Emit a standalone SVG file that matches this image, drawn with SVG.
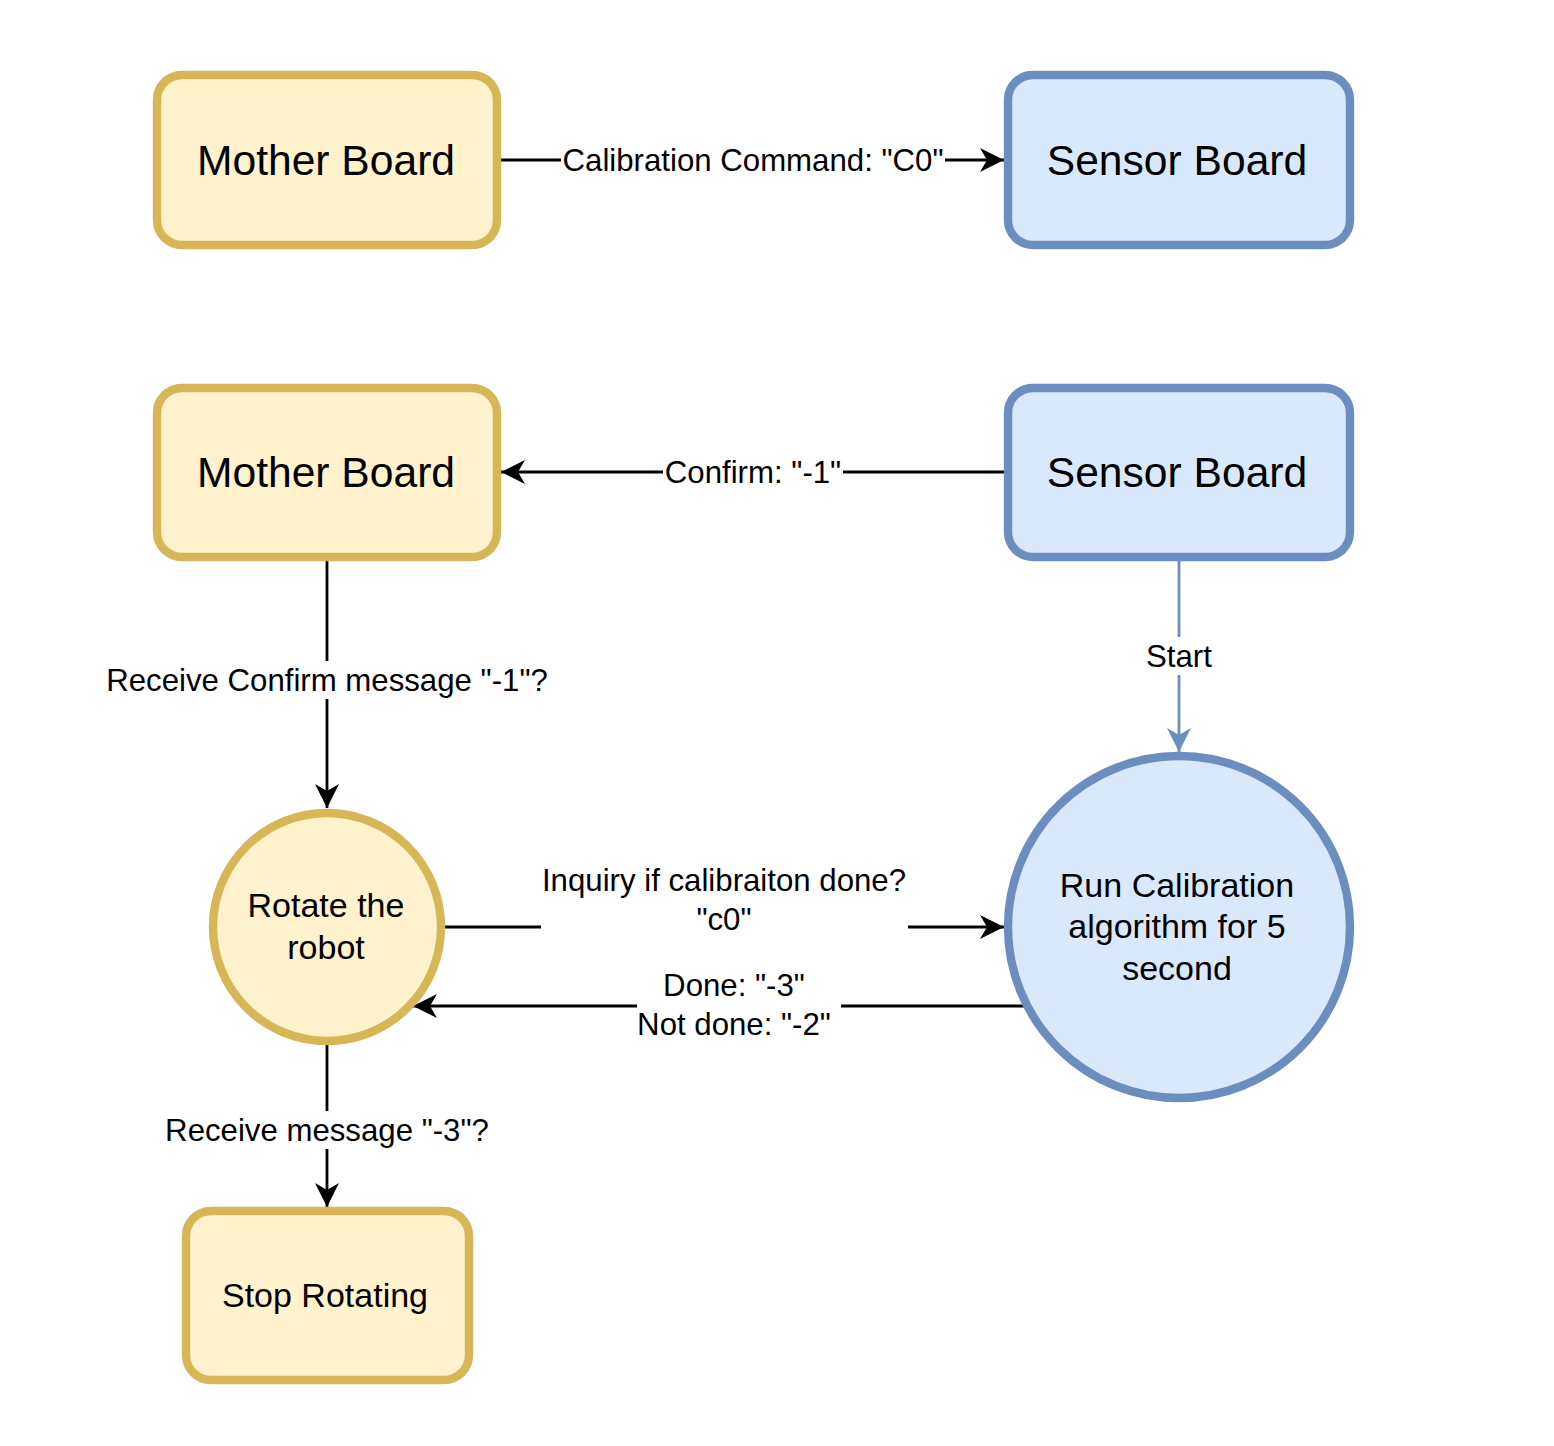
<svg xmlns="http://www.w3.org/2000/svg" width="1554" height="1446" viewBox="0 0 1554 1446">
<defs>
<style>
text{font-family:"Liberation Sans",Arial,sans-serif;fill:#000;text-anchor:middle;dominant-baseline:central}
.y{fill:#fff2cc;stroke:#d6b656;stroke-width:8.4}
.b{fill:#dae8fc;stroke:#6c8ebf;stroke-width:8.4}
.big{font-size:42.6px}
.mid{font-size:34px}
.lbl{font-size:31.2px}
.e{fill:none;stroke:#000;stroke-width:2.8}
.eb{fill:none;stroke:#6c8ebf;stroke-width:2.8}
.bg{fill:#fff}
</style>
<marker id="ak" markerUnits="userSpaceOnUse" viewBox="0 0 24 24" refX="24" refY="12" markerWidth="24" markerHeight="24" orient="auto"><path d="M0,0 L24,12 L0,24 L7,12 Z" fill="#000"/></marker>
<marker id="ab" markerUnits="userSpaceOnUse" viewBox="0 0 24 24" refX="24" refY="12" markerWidth="24" markerHeight="24" orient="auto"><path d="M0,0 L24,12 L0,24 L7,12 Z" fill="#6c8ebf"/></marker>
</defs>
<rect width="1554" height="1446" fill="#fff"/>
<g id="connectors">
<path class="e" d="M501,160 H1004" marker-end="url(#ak)"/>
<rect class="bg" x="561" y="140" width="384" height="40"/>
<text class="lbl" x="753" y="160">Calibration Command: "C0"</text>
<path class="e" d="M1004,472 H501" marker-end="url(#ak)"/>
<rect class="bg" x="663" y="452" width="180" height="40"/>
<text class="lbl" x="753" y="472">Confirm: "-1"</text>
<path class="e" d="M327,561 V808" marker-end="url(#ak)"/>
<rect class="bg" x="104" y="661" width="446" height="38"/>
<text class="lbl" x="327" y="680">Receive Confirm message "-1"?</text>
<path class="eb" d="M1179,561 V752" marker-end="url(#ab)"/>
<rect class="bg" x="1142" y="637" width="74" height="38"/>
<text class="lbl" x="1179" y="656">Start</text>
<path class="e" d="M445,927 H541"/>
<path class="e" d="M908,927 H1004" marker-end="url(#ak)"/>
<text class="lbl" x="724" y="880">Inquiry if calibraiton done?</text>
<text class="lbl" x="724" y="919">"c0"</text>
<path class="e" d="M1024,1006 H841"/>
<path class="e" d="M637,1006 H413" marker-end="url(#ak)"/>
<text class="lbl" x="734" y="985">Done: "-3"</text>
<text class="lbl" x="734" y="1024">Not done: "-2"</text>
<path class="e" d="M327,1044 V1207" marker-end="url(#ak)"/>
<rect class="bg" x="162" y="1111" width="330" height="38"/>
<text class="lbl" x="327" y="1130">Receive message "-3"?</text>
</g>
<g id="mother1"><rect class="y" x="157" y="75" width="340" height="170" rx="25"/><text class="big" x="326" y="160">Mother Board</text></g>
<g id="sensor1"><rect class="b" x="1008" y="75" width="342" height="170" rx="25"/><text class="big" x="1177" y="160">Sensor Board</text></g>
<g id="mother2"><rect class="y" x="157" y="388" width="340" height="169" rx="25"/><text class="big" x="326" y="472">Mother Board</text></g>
<g id="sensor2"><rect class="b" x="1008" y="388" width="342" height="169" rx="25"/><text class="big" x="1177" y="472">Sensor Board</text></g>
<g id="rotate"><circle class="y" cx="327" cy="927" r="114"/><text class="mid" x="326" y="905">Rotate the</text><text class="mid" x="326" y="947">robot</text></g>
<g id="runcal"><circle class="b" cx="1179" cy="927" r="171"/><text class="mid" x="1177" y="885">Run Calibration</text><text class="mid" x="1177" y="926">algorithm for 5</text><text class="mid" x="1177" y="968">second</text></g>
<g id="stop"><rect class="y" x="186" y="1211" width="283" height="169" rx="25"/><text class="mid" x="325" y="1295">Stop Rotating</text></g>
</svg>
